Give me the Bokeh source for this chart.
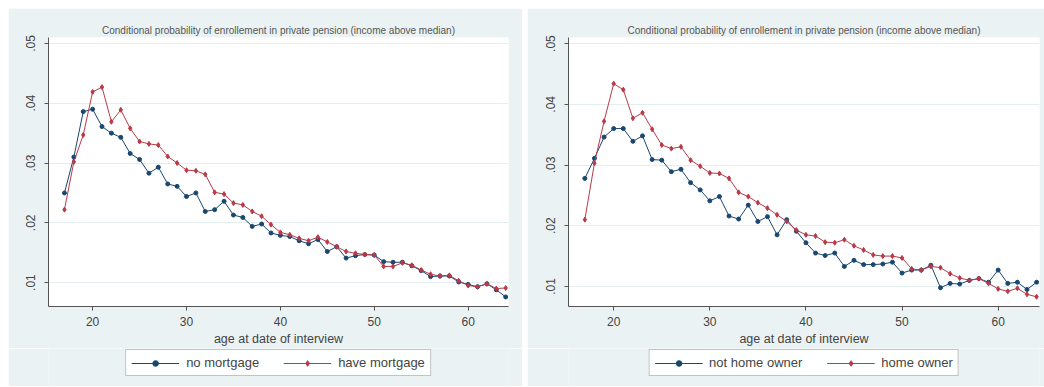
from bokeh.plotting import figure
from bokeh.models import FixedTicker, Legend, LegendItem, Spacer
from bokeh.layouts import row, column
from bokeh.embed import file_html
from bokeh.resources import INLINE

ages = list(range(17, 65))

no_mortgage = [0.0250, 0.0310, 0.0386, 0.0390, 0.0361, 0.0350, 0.0343, 0.0316, 0.0306, 0.0283,
               0.0293, 0.0265, 0.0261, 0.0244, 0.0250, 0.0219, 0.0222, 0.0236, 0.0213, 0.0209,
               0.0194, 0.0198, 0.0183, 0.0179, 0.0177, 0.0170, 0.0165, 0.0172, 0.0152, 0.0160,
               0.0141, 0.0145, 0.0147, 0.0146, 0.0135, 0.0134, 0.0134, 0.0128, 0.0120, 0.0110,
               0.0111, 0.0111, 0.0101, 0.0097, 0.0093, 0.0098, 0.0088, 0.0076]
have_mortgage = [0.0222, 0.0302, 0.0347, 0.0419, 0.0427, 0.0369, 0.0389, 0.0358, 0.0336, 0.0332,
                 0.0330, 0.0311, 0.0300, 0.0288, 0.0287, 0.0281, 0.0251, 0.0248, 0.0233, 0.0230,
                 0.0219, 0.0211, 0.0197, 0.0184, 0.0180, 0.0174, 0.0170, 0.0176, 0.0168, 0.0160,
                 0.0152, 0.0149, 0.0147, 0.0146, 0.0127, 0.0127, 0.0133, 0.0129, 0.0121, 0.0114,
                 0.0111, 0.0112, 0.0103, 0.0095, 0.0093, 0.0098, 0.0090, 0.0091]
not_home_owner = [0.0278, 0.0311, 0.0346, 0.0360, 0.0360, 0.0339, 0.0348, 0.0309, 0.0308, 0.0289,
                  0.0293, 0.0271, 0.0259, 0.0241, 0.0248, 0.0216, 0.0211, 0.0234, 0.0207, 0.0215,
                  0.0185, 0.0210, 0.0191, 0.0172, 0.0155, 0.0151, 0.0155, 0.0133, 0.0143, 0.0136,
                  0.0136, 0.0137, 0.0140, 0.0122, 0.0127, 0.0127, 0.0135, 0.0098, 0.0105, 0.0104,
                  0.0110, 0.0113, 0.0107, 0.0127, 0.0105, 0.0107, 0.0095, 0.0107]
home_owner = [0.0210, 0.0303, 0.0372, 0.0434, 0.0424, 0.0377, 0.0386, 0.0359, 0.0333, 0.0327,
              0.0330, 0.0308, 0.0298, 0.0287, 0.0286, 0.0278, 0.0255, 0.0248, 0.0238, 0.0229,
              0.0218, 0.0207, 0.0193, 0.0185, 0.0183, 0.0173, 0.0172, 0.0177, 0.0167, 0.0160,
              0.0152, 0.0150, 0.0150, 0.0147, 0.0129, 0.0127, 0.0133, 0.0131, 0.0121, 0.0114,
              0.0110, 0.0113, 0.0105, 0.0096, 0.0092, 0.0097, 0.0087, 0.0083]

title_text = "Conditional probability of enrollement in private pension (income above median)"
x_label = "age at date of interview"
x_ticks = [20, 30, 40, 50, 60]
y_ticks = [0.01, 0.02, 0.03, 0.04, 0.05]
y_tick_labels = [".01", ".02", ".03", ".04", ".05"]

FONT = "Liberation Sans"
BG = "#eaf2f3"
C1 = "#1a476f"
C2 = "#b83a48"
MAIN_H = 340
LEG_H = 38


def draw_series(fig, s1, s2, visible=True):
    l1 = fig.line(ages, s1, line_color=C1, line_width=1, visible=visible)
    m1 = fig.scatter(ages, s1, marker="circle", size=4, color=C1, visible=visible)
    l2 = fig.line(ages, s2, line_color=C2, line_width=1, visible=visible)
    m2 = fig.scatter(ages, s2, marker="diamond", size=5, color=C2, visible=visible)
    return (l1, m1), (l2, m2)


def make_panel(s1, s2, lab1, lab2, width, y_lo, y_hi, left_b, right_b):
    p = figure(width=width, height=MAIN_H, x_range=(15.3, 64.3), y_range=(y_lo, y_hi),
               output_backend="svg", toolbar_location=None,
               min_border_left=left_b, min_border_right=right_b, min_border_top=29,
               min_border_bottom=4)
    p.border_fill_color = BG
    p.background_fill_color = "white"
    p.outline_line_color = None
    p.title.text = title_text
    p.title.align = "center"
    p.title.text_font = FONT
    p.title.text_font_size = "10px"
    p.title.text_font_style = "normal"
    p.title.text_color = "#555555"
    p.title.standoff = 3

    p.xgrid.visible = False
    p.ygrid.grid_line_color = "#e4edef"
    p.ygrid.grid_line_width = 1

    p.xaxis.ticker = FixedTicker(ticks=x_ticks)
    p.yaxis.ticker = FixedTicker(ticks=y_ticks)
    p.yaxis.major_label_overrides = {k: v for k, v in zip(y_ticks, y_tick_labels)}
    p.yaxis.major_label_orientation = "vertical"
    for ax in (p.xaxis, p.yaxis):
        ax.axis_line_color = "#555555"
        ax.major_tick_line_color = "#555555"
        ax.major_tick_out = 4
        ax.major_tick_in = 0
        ax.minor_tick_line_color = None
        ax.major_label_text_font = FONT
        ax.major_label_text_font_size = "12px"
        ax.major_label_text_color = "#444444"
    p.yaxis.major_label_standoff = 9
    p.xaxis.major_label_standoff = 6
    p.xaxis.axis_label = x_label
    p.xaxis.axis_label_text_font = FONT
    p.xaxis.axis_label_text_font_size = "12.5px"
    p.xaxis.axis_label_text_font_style = "normal"
    p.xaxis.axis_label_text_color = "#444444"
    p.xaxis.axis_label_standoff = 3

    draw_series(p, s1, s2)

    # legend strip below the plot
    q = figure(width=width, height=LEG_H, x_range=(15.3, 64.3), y_range=(y_lo, y_hi),
               output_backend="svg", toolbar_location=None,
               min_border_left=left_b, min_border_right=right_b, min_border_top=0,
               min_border_bottom=0)
    q.axis.visible = False
    q.grid.visible = False
    q.outline_line_color = None
    q.border_fill_color = BG
    q.background_fill_color = BG
    (k1, k1m), (k2, k2m) = draw_series(q, s1, s2, visible=False)
    legend = Legend(items=[LegendItem(label=lab1, renderers=[k1, k1m]),
                           LegendItem(label=lab2, renderers=[k2, k2m])],
                    orientation="horizontal", location="top_center")
    legend.label_text_font = FONT
    legend.label_text_font_size = "13px"
    legend.label_text_color = "#444444"
    legend.label_height = 14
    legend.glyph_width = 48
    legend.glyph_height = 14
    legend.spacing = 24
    legend.label_standoff = 7
    legend.padding = 5
    legend.margin = 1
    legend.border_line_color = "#888888"
    legend.background_fill_color = "white"
    q.add_layout(legend, "center")
    return column(p, q, spacing=0)


p1 = make_panel(no_mortgage, have_mortgage, "no mortgage", "have mortgage", 514, 0.006, 0.051, 40, 14)
p2 = make_panel(not_home_owner, home_owner, "not home owner", "home owner", 517, 0.0067, 0.051, 41, 5)

layout = column(Spacer(width=1044, height=8),
                row(Spacer(width=8, height=MAIN_H + LEG_H), p1,
                    Spacer(width=5, height=MAIN_H + LEG_H), p2),
                spacing=0)
open("out.html", "w").write(file_html(layout, INLINE))
